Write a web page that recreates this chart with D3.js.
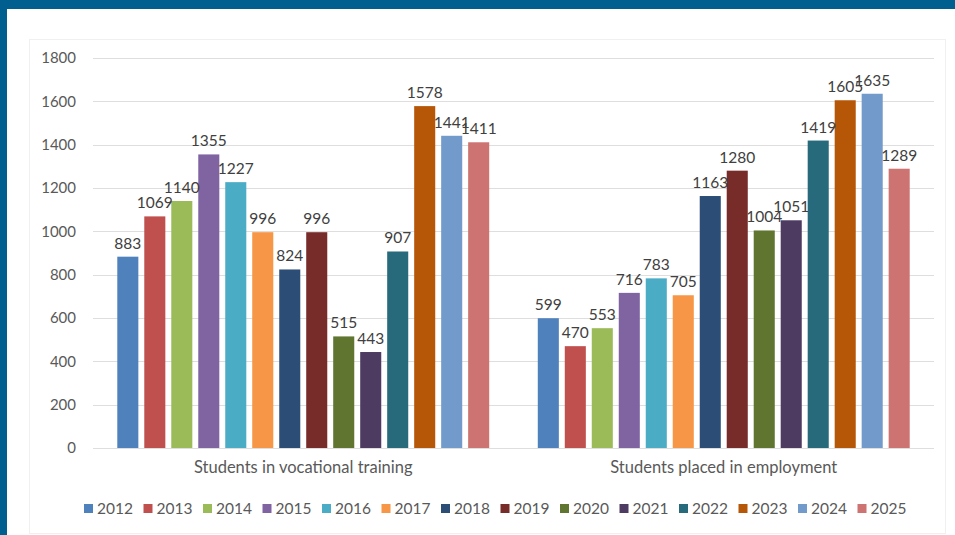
<!DOCTYPE html>
<html>
<head>
<meta charset="utf-8">
<script src="https://cdn.jsdelivr.net/npm/d3@7"></script>
<style>
  html, body { margin: 0; padding: 0; background: #ffffff; }
  svg { display: block; }
</style>
</head>
<body>
<script>
// Data
const categories = ["Students in vocational training", "Students placed in employment"];
const years = ["2012","2013","2014","2015","2016","2017","2018","2019","2020","2021","2022","2023","2024","2025"];
const vocational = [883, 1069, 1140, 1355, 1227, 996, 824, 996, 515, 443, 907, 1578, 1441, 1411];
const employment = [599, 470, 553, 716, 783, 705, 1163, 1280, 1004, 1051, 1419, 1605, 1635, 1289];
const yTicks = [0, 200, 400, 600, 800, 1000, 1200, 1400, 1600, 1800];
const colors = ["#4F81BD","#C0504D","#9BBB59","#8064A2","#4BACC6","#F79646",
                "#2C4D75","#772C2A","#5F7530","#4D3B62","#276A7C","#B65708","#729ACA","#CD7371"];

const seriesByCategory = [vocational, employment];

const W = 955, H = 535;
const svg = d3.select("body").append("svg").attr("width", W).attr("height", H);

// Frame: blue band on top and left edge
svg.append("rect").attr("x", 0).attr("y", 0).attr("width", W).attr("height", H).attr("fill", "#ffffff");
svg.append("rect").attr("x", 0).attr("y", 0).attr("width", W).attr("height", 9).attr("fill", "#005F8E");
svg.append("rect").attr("x", 0).attr("y", 0).attr("width", 7).attr("height", H).attr("fill", "#005F8E");

// Chart panel
svg.append("rect").attr("x", 29.5).attr("y", 39.5).attr("width", 916).attr("height", 494)
  .attr("fill", "#ffffff").attr("stroke", "#f0f0f0").attr("stroke-width", 1);

const plot = { left: 93, right: 934, top: 58, bottom: 448 };

const y = d3.scaleLinear().domain([0, 1800]).range([plot.bottom, plot.top]);
const x0 = d3.scaleBand().domain(categories).range([plot.left, plot.right]).padding(0);
const x1 = d3.scaleBand().domain(years).range([0, x0.bandwidth()]).paddingInner(0.22).paddingOuter(0.9);

const font = "Lato, 'Open Sans', sans-serif";

// Gridlines
svg.append("g").selectAll("line").data(yTicks).join("line")
  .attr("x1", plot.left).attr("x2", plot.right)
  .attr("y1", d => Math.round(y(d)) + 0.5).attr("y2", d => Math.round(y(d)) + 0.5)
  .attr("stroke", "#dedede").attr("stroke-width", 1);

// Y axis labels
const yAxis = d3.axisLeft(y).tickValues(yTicks).tickFormat(d3.format("d")).tickSize(0).tickPadding(0);
const gy = svg.append("g").attr("transform", `translate(${76},0)`).call(yAxis);
gy.select(".domain").remove();
gy.selectAll("text").attr("font-family", font).attr("font-size", 15).attr("fill", "#595959");

// Bars and value labels
const groups = svg.append("g").selectAll("g").data(categories).join("g")
  .attr("transform", d => `translate(${x0(d)},0)`);

groups.each(function(cat, ci) {
  const g = d3.select(this);
  const vals = seriesByCategory[ci].map((v, i) => ({ year: years[i], value: v, color: colors[i] }));
  g.selectAll("rect").data(vals).join("rect")
    .attr("x", d => x1(d.year)).attr("width", x1.bandwidth())
    .attr("y", d => y(d.value)).attr("height", d => y(0) - y(d.value))
    .attr("fill", d => d.color);
  g.selectAll("text").data(vals).join("text")
    .attr("x", d => x1(d.year) + x1.bandwidth() / 2)
    .attr("y", d => y(d.value) - 8)
    .attr("text-anchor", "middle")
    .attr("font-family", font).attr("font-size", 15.5).attr("fill", "#404040")
    .text(d => d.value);
});

// Category axis labels
const xAxis = d3.axisBottom(x0).tickSize(0).tickPadding(0);
const gx = svg.append("g").attr("transform", `translate(0,${plot.bottom + 11})`).call(xAxis);
gx.select(".domain").remove();
gx.selectAll("text").attr("font-family", font).attr("font-size", 16.5).attr("fill", "#595959")
  .attr("dy", "0.85em");

// Legend
const legend = svg.append("g").attr("transform", "translate(84,509)");
const itemW = 59.5;
const items = legend.selectAll("g").data(years).join("g")
  .attr("transform", (d, i) => `translate(${i * itemW},0)`);
items.append("rect").attr("x", 0).attr("y", -5).attr("width", 9).attr("height", 9)
  .attr("fill", (d, i) => colors[i]);
items.append("text").attr("x", 13).attr("y", 0).attr("dy", "0.35em")
  .attr("font-family", font).attr("font-size", 15.5).attr("fill", "#595959")
  .text(d => d);
</script>
</body>
</html>
